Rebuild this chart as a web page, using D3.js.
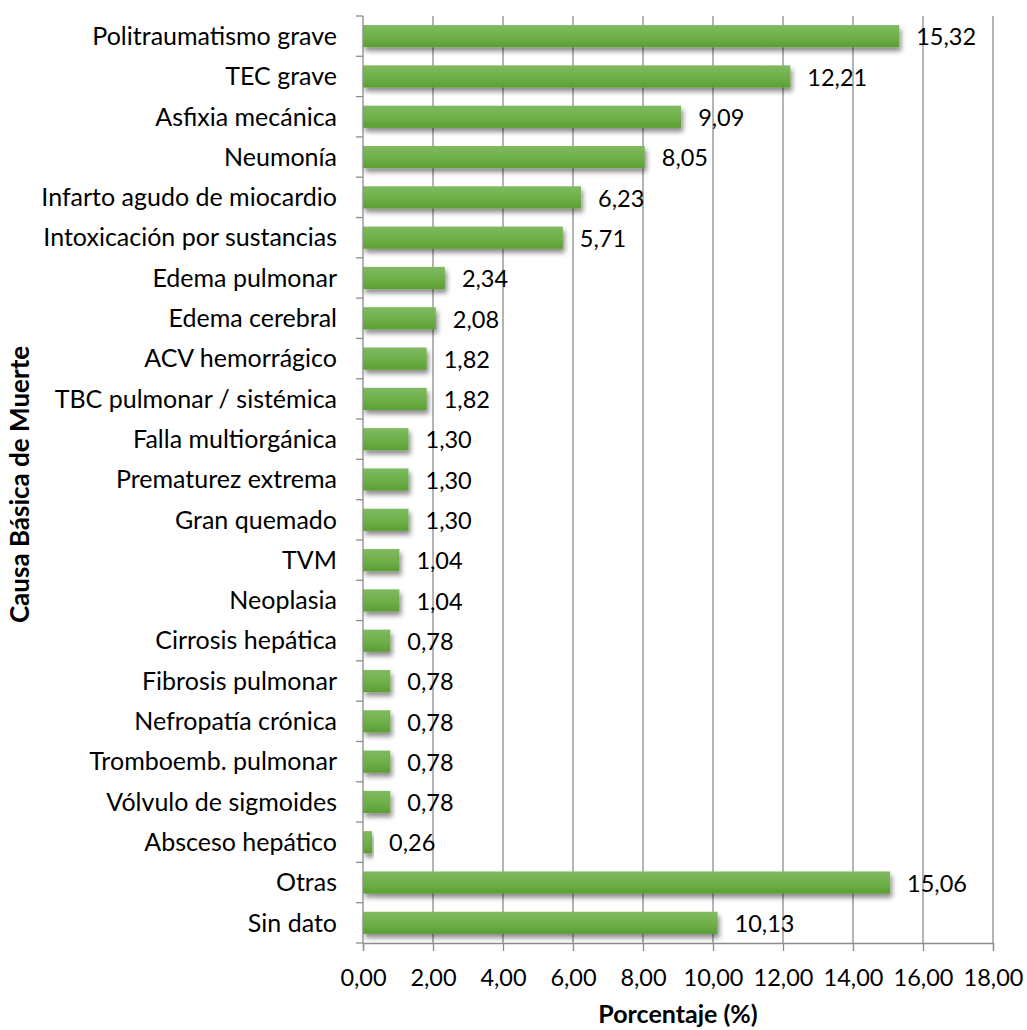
<!DOCTYPE html>
<html>
<head>
<meta charset="utf-8">
<script src="https://cdn.jsdelivr.net/npm/d3@7"></script>
<style>
  html, body { margin: 0; padding: 0; background: #ffffff; }
  svg { display: block; }
  text { font-family: Lato, "Open Sans", sans-serif; fill: #000; }
</style>
</head>
<body>
<svg id="chart" width="1027" height="1030"></svg>
<script>
// Causes of death, top to bottom, with percentage share
const causes = [
  "Politraumatismo grave", "TEC grave", "Asfixia mecánica", "Neumonía",
  "Infarto agudo de miocardio", "Intoxicación por sustancias", "Edema pulmonar",
  "Edema cerebral", "ACV hemorrágico", "TBC pulmonar / sistémica",
  "Falla multiorgánica", "Prematurez extrema", "Gran quemado", "TVM", "Neoplasia",
  "Cirrosis hepática", "Fibrosis pulmonar", "Nefropatía crónica",
  "Tromboemb. pulmonar", "Vólvulo de sigmoides", "Absceso hepático",
  "Otras", "Sin dato"
];
const percentages = [
  15.32, 12.21, 9.09, 8.05, 6.23, 5.71, 2.34, 2.08, 1.82, 1.82,
  1.30, 1.30, 1.30, 1.04, 1.04, 0.78, 0.78, 0.78, 0.78, 0.78, 0.26,
  15.06, 10.13
];
const xTicks = [0, 2, 4, 6, 8, 10, 12, 14, 16, 18];
const xTitle = "Porcentaje (%)";
const yTitle = "Causa Básica de Muerte";

const fmt = v => v.toFixed(2).replace(".", ",");

const svg = d3.select("#chart");
const plotLeft = 363, plotRight = 993, plotTop = 16, plotBottom = 943;
const gridColor = "#8c8c8c";

const x = d3.scaleLinear().domain([0, 18]).range([plotLeft, plotRight]);
const y = d3.scaleBand().domain(causes).range([plotTop, plotBottom]).paddingInner(0.45).paddingOuter(0.225);

const defs = svg.append("defs");
const grad = defs.append("linearGradient").attr("id", "barFill")
  .attr("x1", 0).attr("y1", 0).attr("x2", 0).attr("y2", 1);
grad.append("stop").attr("offset", "0%").attr("stop-color", "#80ba62");
grad.append("stop").attr("offset", "55%").attr("stop-color", "#6eaf48");
grad.append("stop").attr("offset", "100%").attr("stop-color", "#5c9e34");

const shadow = defs.append("filter").attr("id", "barShadow")
  .attr("x", "-10%").attr("y", "-30%").attr("width", "130%").attr("height", "190%");
shadow.append("feDropShadow").attr("dx", 2).attr("dy", 4).attr("stdDeviation", 2.6)
  .attr("flood-color", "#000").attr("flood-opacity", 0.45);

// vertical gridlines
svg.append("g").selectAll("line").data(xTicks.slice(1)).join("line")
  .attr("x1", d => x(d)).attr("x2", d => x(d))
  .attr("y1", plotTop).attr("y2", plotBottom)
  .attr("stroke", gridColor).attr("stroke-width", 1.3);

// bars
svg.append("g").selectAll("rect").data(causes).join("rect")
  .attr("x", x(0))
  .attr("y", d => y(d))
  .attr("width", (d, i) => x(percentages[i]) - x(0))
  .attr("height", y.bandwidth())
  .attr("fill", "url(#barFill)")
  .attr("filter", "url(#barShadow)");

// value labels
svg.append("g").selectAll("text").data(causes).join("text")
  .attr("x", (d, i) => x(percentages[i]) + 17)
  .attr("y", d => y(d) + y.bandwidth() / 2 + 1)
  .attr("dy", "0.35em")
  .attr("font-size", 23.5)
  .text((d, i) => fmt(percentages[i]));

// x axis
const xAxis = svg.append("g").attr("transform", `translate(0,${plotBottom})`)
  .call(d3.axisBottom(x).tickValues(xTicks).tickFormat(fmt).tickSize(8).tickPadding(18));
xAxis.select(".domain").attr("stroke", gridColor).attr("stroke-width", 1.3);
xAxis.selectAll(".tick line").attr("stroke", gridColor).attr("stroke-width", 1.3);
xAxis.selectAll(".tick text").attr("font-size", 23.5).attr("font-family", "Lato, sans-serif").attr("fill", "#000");

// y axis: ticks at category boundaries
const boundaries = d3.range(causes.length + 1).map(i => plotTop + i * (plotBottom - plotTop) / causes.length);
svg.append("line").attr("x1", plotLeft).attr("x2", plotLeft).attr("y1", plotTop).attr("y2", plotBottom)
  .attr("stroke", gridColor).attr("stroke-width", 1.3);
svg.append("g").selectAll("line").data(boundaries).join("line")
  .attr("x1", plotLeft - 7).attr("x2", plotLeft).attr("y1", d => d).attr("y2", d => d)
  .attr("stroke", gridColor).attr("stroke-width", 1.3);

svg.append("g").selectAll("text").data(causes).join("text")
  .attr("x", plotLeft - 26)
  .attr("y", d => y(d) + y.bandwidth() / 2)
  .attr("dy", "0.35em")
  .attr("text-anchor", "end")
  .attr("font-size", 25)
  .text(d => d);

// axis titles
svg.append("text").attr("x", (plotLeft + plotRight) / 2).attr("y", 1023)
  .attr("text-anchor", "middle").attr("font-size", 25).attr("font-weight", "bold")
  .text(xTitle);
svg.append("text")
  .attr("transform", `translate(29,${(plotTop + plotBottom) / 2 + 5}) rotate(-90)`)
  .attr("text-anchor", "middle").attr("font-size", 26).attr("font-weight", "bold")
  .text(yTitle);
</script>
</body>
</html>
